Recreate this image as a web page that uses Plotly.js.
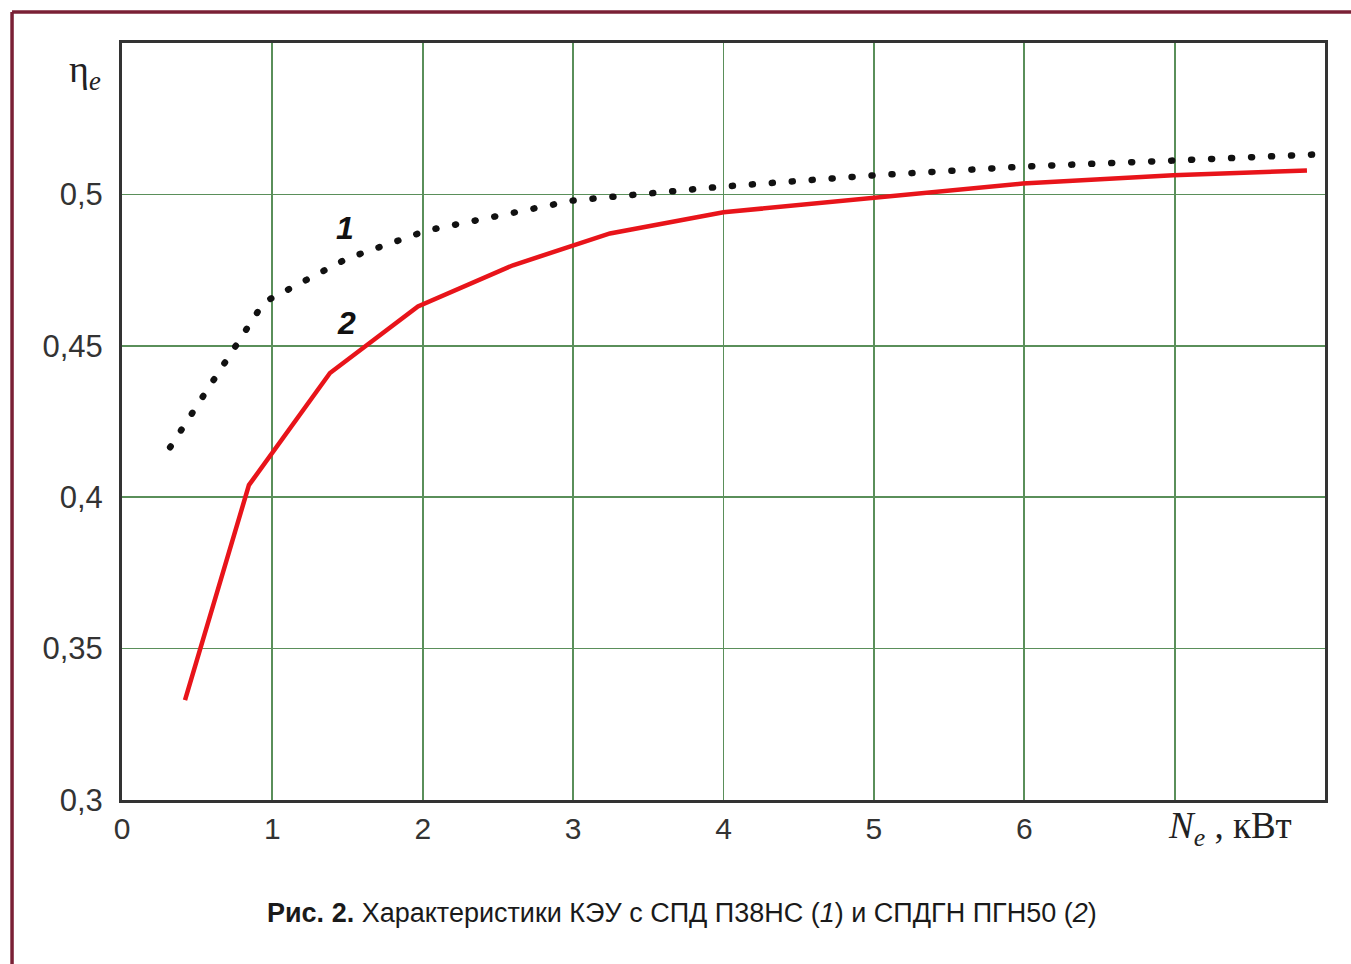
<!DOCTYPE html>
<html>
<head>
<meta charset="utf-8">
<script src="https://cdn.plot.ly/plotly-3.0.1.min.js"></script>
<style>
  html, body { margin: 0; padding: 0; background: #fff; }
  #chart { width: 1351px; height: 964px; }
  .scatterlayer .trace:first-child path.js-line { stroke-linecap: round; }
</style>
</head>
<body>
<div id="chart"></div>
<script>
// Curve 1: КЭУ с СПД П38НС (dotted)
const x1 = [0.32, 0.944, 1.5, 2.03, 3.0, 4.0, 5.0, 6.0, 7.0, 7.94];
const y1 = [0.4165, 0.4644, 0.4789, 0.4881, 0.498, 0.5026, 0.5063, 0.5092, 0.5112, 0.5132];
// Curve 2: КЭУ с СПДГН ПГН50 (red)
const x2 = [0.419, 0.844, 1.383, 1.968, 2.6, 3.245, 4.0, 4.99, 5.99, 6.99, 7.88];
const y2 = [0.333, 0.404, 0.441, 0.463, 0.4766, 0.4871, 0.4941, 0.499, 0.5036, 0.5063, 0.5079];

const xTickVals = [0, 1, 2, 3, 4, 5, 6, 7];
const xTickText = ['0', '1', '2', '3', '4', '5', '6', ''];
const yTickVals = [0.3, 0.35, 0.4, 0.45, 0.5];
const yTickText = ['0,3', '0,35', '0,4', '0,45', '0,5'];

const curveLabels = ['1', '2'];
const curveLabelX = [1.48, 1.49];
const curveLabelY = [0.4888, 0.4574];

const caption = '<b>Рис. 2.</b> Характеристики КЭУ с СПД П38НС (<i>1</i>) и СПДГН ПГН50 (<i>2</i>)';
const yTitle = 'η<sub><i>e</i></sub>';
const xTitle = '<i>N</i><sub><i>e</i></sub> , кВт';

const sansFont = 'Arial, Liberation Sans, Helvetica, sans-serif';
const serifFont = 'Times New Roman, Liberation Serif, serif';

const traces = [
  { x: x1, y: y1, type: 'scatter', mode: 'lines', name: '1',
    line: { color: '#111', width: 6.5, dash: '1px,19px' }, hoverinfo: 'skip' },
  { x: x2, y: y2, type: 'scatter', mode: 'lines', name: '2',
    line: { color: '#e8141a', width: 4.5 }, hoverinfo: 'skip' }
];

const gridColor = '#5a8f5a';
const annotations = curveLabels.map((t, i) => ({
  x: curveLabelX[i], y: curveLabelY[i], xref: 'x', yref: 'y', text: '<b><i>' + t + '</i></b>',
  showarrow: false, font: { family: sansFont, size: 32, color: '#111' }
}));
annotations.push({
  x: -0.031, y: 0.962, xref: 'paper', yref: 'paper', text: yTitle, showarrow: false,
  xanchor: 'center', yanchor: 'middle',
  font: { family: serifFont, size: 38, color: '#222' }
});
annotations.push({
  x: 0.921, y: -0.037, xref: 'paper', yref: 'paper', text: xTitle, showarrow: false,
  xanchor: 'center', yanchor: 'middle',
  font: { family: serifFont, size: 37, color: '#222' }
});
annotations.push({
  x: 0.4655, y: -0.149, xref: 'paper', yref: 'paper', text: caption, showarrow: false,
  xanchor: 'center', yanchor: 'middle',
  font: { family: 'Arial Narrow, Liberation Sans Narrow, Arial, Liberation Sans, sans-serif', size: 27, color: '#1a1a1a' }
});

const frameColor = '#7a2035';
const layout = {
  width: 1351, height: 964,
  margin: { l: 122, r: 26, t: 43, b: 164 },
  paper_bgcolor: '#ffffff', plot_bgcolor: '#ffffff',
  showlegend: false,
  xaxis: {
    range: [0, 8], tickvals: xTickVals, ticktext: xTickText,
    showgrid: true, gridcolor: gridColor, gridwidth: 1.8,
    zeroline: false, showline: true, mirror: true, linecolor: '#333', linewidth: 3,
    ticks: '', ticklabelstandoff: 0,
    tickfont: { family: sansFont, size: 30, color: '#333' },
    fixedrange: true
  },
  yaxis: {
    range: [0.3, 0.55], tickvals: yTickVals, ticktext: yTickText,
    showgrid: true, gridcolor: gridColor, gridwidth: 1.8,
    zeroline: false, showline: true, mirror: true, linecolor: '#333', linewidth: 3,
    ticks: '', ticklabelstandoff: 10,
    tickfont: { family: sansFont, size: 31, color: '#333' },
    fixedrange: true
  },
  annotations: annotations,
  shapes: [
    { type: 'line', xref: 'paper', yref: 'paper', x0: -0.0914, x1: 1.03, y0: 1.041, y1: 1.041,
      line: { color: frameColor, width: 3.5 } },
    { type: 'line', xref: 'paper', yref: 'paper', x0: -0.0914, x1: -0.0914, y0: 1.041, y1: -0.23,
      line: { color: frameColor, width: 3.5 } }
  ]
};

Plotly.newPlot('chart', traces, layout, { displayModeBar: false, staticPlot: true });
</script>
</body>
</html>
